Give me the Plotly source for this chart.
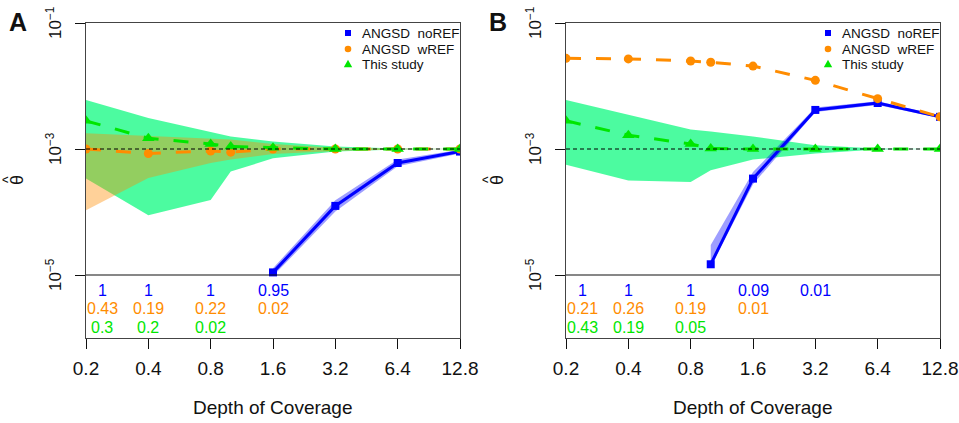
import math
import plotly.graph_objects as go

# ---------------- data ----------------
depth = [0.2, 0.4, 0.8, 1.0, 1.6, 3.2, 6.4, 12.8]
depth_ticks = [0.2, 0.4, 0.8, 1.6, 3.2, 6.4, 12.8]
depth_tick_labels = ["0.2", "0.4", "0.8", "1.6", "3.2", "6.4", "12.8"]
theta_ticks = [1e-5, 1e-3, 1e-1]
theta_tick_labels = ["10<sup>−5</sup>", "10<sup>−3</sup>", "10<sup>−1</sup>"]

# Panel A
a_noref = [None, None, None, None, 1.10e-5, 1.25e-4, 6.0e-4, 9.1e-4]
a_noref_lo = [None, None, None, None, 0.96e-5, 1.02e-4, 5.3e-4, 8.5e-4]
a_noref_hi = [None, None, None, None, 1.28e-5, 1.53e-4, 6.8e-4, 9.7e-4]
a_wref = [1.0e-3, 8.5e-4, 9.3e-4, 8.9e-4, 1.0e-3, 1.0e-3, 1.0e-3, 1.0e-3]
a_wref_lo = [1.07e-4, 3.47e-4, 6.0e-4, 6.8e-4, 8.3e-4, 9.3e-4, 9.8e-4, 1.0e-3]
a_wref_hi = [1.78e-3, 1.62e-3, 1.48e-3, 1.41e-3, 1.20e-3, 1.05e-3, 1.02e-3, 1.0e-3]
a_study = [2.8e-3, 1.48e-3, 1.2e-3, 1.1e-3, 1.05e-3, 1.0e-3, 1.0e-3, 1.0e-3]
a_study_lo = [3.4e-4, 8.9e-5, 1.55e-4, 4.4e-4, 7.1e-4, 9.1e-4, 9.8e-4, 1.0e-3]
a_study_hi = [6.0e-3, 3.1e-3, 1.86e-3, 1.58e-3, 1.32e-3, 1.10e-3, 1.02e-3, 1.0e-3]

# Panel B
b_noref = [None, None, None, 1.48e-5, 3.39e-4, 4.17e-3, 5.37e-3, 3.24e-3]
b_noref_lo = [None, None, None, 1.35e-5, 2.75e-4, 3.85e-3, 5.0e-3, 3.1e-3]
b_noref_hi = [None, None, None, 3.0e-5, 4.3e-4, 4.55e-3, 5.75e-3, 3.4e-3]
b_wref = [2.75e-2, 2.69e-2, 2.49e-2, 2.38e-2, 2.07e-2, 1.23e-2, 6.3e-3, 3.24e-3]
b_study = [2.8e-3, 1.66e-3, 1.2e-3, 1.02e-3, 1.0e-3, 1.0e-3, 1.0e-3, 1.0e-3]
b_study_lo = [5.6e-4, 3.16e-4, 3.0e-4, 4.6e-4, 6.8e-4, 8.5e-4, 9.8e-4, 1.0e-3]
b_study_hi = [6.0e-3, 3.47e-3, 2.04e-3, 1.9e-3, 1.58e-3, 1.15e-3, 1.02e-3, 1.0e-3]

# proportions printed under each panel (rows: noREF, wREF, this study)
a_prop_noref = ["1", "1", "1", "0.95"]
a_prop_wref = ["0.43", "0.19", "0.22", "0.02"]
a_prop_study = ["0.3", "0.2", "0.02"]
b_prop_noref = ["1", "1", "1", "0.09", "0.01"]
b_prop_wref = ["0.21", "0.26", "0.19", "0.01"]
b_prop_study = ["0.43", "0.19", "0.05"]

series_names = ["ANGSD  noREF", "ANGSD  wREF", "This study"]

# ---------------- styles ----------------
W, H = 959, 423
BLUE = "#0000FF"
ORANGE = "#FF8C00"
GREEN = "#00E600"
BLUE_FILL = "rgba(0,0,255,0.38)"
ORANGE_FILL = "rgba(255,140,0,0.40)"
GREEN_FILL = "rgba(0,250,120,0.70)"
FONT = "Liberation Sans, Arial, sans-serif"

def px_x(p):
    return p / W

def px_y(p):
    return 1 - p / H

fig = go.Figure()

def band(xaxis, yaxis, lo, hi, color):
    xs = [d for d, v in zip(depth, lo) if v is not None]
    los = [v for v in lo if v is not None]
    his = [v for v in hi if v is not None]
    fig.add_trace(go.Scatter(
        x=xs + xs[::-1], y=his + los[::-1], fill="toself", fillcolor=color,
        line=dict(width=0), mode="lines", hoverinfo="skip", showlegend=False,
        xaxis=xaxis, yaxis=yaxis))

def series(xaxis, yaxis, vals, color, symbol, size, dash, name):
    xs = [d for d, v in zip(depth, vals) if v is not None]
    ys = [v for v in vals if v is not None]
    fig.add_trace(go.Scatter(
        x=xs, y=ys, mode="lines+markers", name=name,
        line=dict(color=color, width=3, dash=dash),
        marker=dict(color=color, symbol=symbol, size=size, line=dict(width=0)),
        showlegend=False, xaxis=xaxis, yaxis=yaxis))

# Panel A
band("x", "y", a_study_lo, a_study_hi, GREEN_FILL)
band("x", "y", a_wref_lo, a_wref_hi, ORANGE_FILL)
band("x", "y", a_noref_lo, a_noref_hi, BLUE_FILL)
series("x", "y", a_noref, BLUE, "square", 8, "solid", series_names[0])
series("x", "y", a_wref, ORANGE, "circle", 9, "longdash", series_names[1])
series("x", "y", a_study, GREEN, "triangle-up", 11, "longdash", series_names[2])

# Panel B
band("x2", "y2", b_study_lo, b_study_hi, GREEN_FILL)
band("x2", "y2", b_noref_lo, b_noref_hi, BLUE_FILL)
series("x2", "y2", b_noref, BLUE, "square", 8, "solid", series_names[0])
series("x2", "y2", b_study, GREEN, "triangle-up", 11, "longdash", series_names[2])
series("x2", "y2", b_wref, ORANGE, "circle", 9, "longdash", series_names[1])

# ---------------- axes ----------------
xr = [math.log10(0.2), math.log10(12.8)]
common_x = dict(
    type="log", range=xr, tickvals=depth_ticks, ticktext=depth_tick_labels,
    ticks="outside", ticklen=10, tickcolor="#111", tickwidth=1,
    showline=True, linecolor="#444", linewidth=1.2, mirror=True,
    showgrid=False, zeroline=False, ticklabelstandoff=3, automargin=False,
    tickfont=dict(family=FONT, size=19, color="#111"))
common_y = dict(
    type="log", range=[-6, -1], tickvals=theta_ticks, showticklabels=False,
    ticks="outside", ticklen=10, tickcolor="#111",
    showline=True, linecolor="#444", linewidth=1.2, mirror=True,
    showgrid=False, zeroline=False, automargin=False)

yd = [px_y(338), px_y(23)]
fig.update_layout(
    xaxis=dict(domain=[px_x(86), px_x(460)], anchor="y", **common_x),
    yaxis=dict(domain=yd, anchor="x", **common_y),
    xaxis2=dict(domain=[px_x(566), px_x(940)], anchor="y2", **common_x),
    yaxis2=dict(domain=yd, anchor="x2", **common_y),
)

shapes = []
for xr_, yr_ in [("x", "y"), ("x2", "y2")]:
    shapes.append(dict(type="line", xref=f"{xr_} domain", x0=0, x1=1,
                       yref=yr_, y0=1e-3, y1=1e-3,
                       line=dict(color="black", width=1.2, dash="4px,3px"),
                       layer="above"))
    shapes.append(dict(type="line", xref=f"{xr_} domain", x0=0, x1=1,
                       yref=yr_, y0=1e-5, y1=1e-5,
                       line=dict(color="#111", width=1.2), layer="above"))

annotations = []
row_y = [0.150, 0.093, 0.034]
for xr_, yr_, rows in [("x", "y", [a_prop_noref, a_prop_wref, a_prop_study]),
                       ("x2", "y2", [b_prop_noref, b_prop_wref, b_prop_study])]:
    for ry, texts, col in zip(row_y, rows, [BLUE, ORANGE, GREEN]):
        for i, t in enumerate(texts):
            annotations.append(dict(
                text=t, xref=xr_, yref=f"{yr_} domain",
                x=math.log10(depth_ticks[i]), y=ry, xshift=16 if i == 0 else 0,
                showarrow=False, font=dict(family=FONT, size=16, color=col),
                xanchor="center", yanchor="middle"))
    annotations.append(dict(
        text="Depth of Coverage", xref=f"{xr_} domain", x=0.5, yref="paper",
        y=px_y(407), showarrow=False, xanchor="center", yanchor="middle",
        font=dict(family=FONT, size=19, color="#111")))
    # rotated y tick labels
    for tv, tt in zip(theta_ticks, theta_tick_labels):
        annotations.append(dict(
            text=tt, xref=f"{xr_} domain", x=0, xshift=-32, yref=yr_,
            y=math.log10(tv), showarrow=False, textangle=-90,
            xanchor="center", yanchor="middle",
            font=dict(family=FONT, size=17, color="#111")))

for letter, lx in [("A", 18), ("B", 498)]:
    annotations.append(dict(
        text=f"<b>{letter}</b>", xref="paper", yref="paper", x=px_x(lx), y=px_y(22),
        showarrow=False, xanchor="center", yanchor="middle",
        font=dict(family=FONT, size=25, color="#111")))

# y axis label: theta with hat (rotated)
for off in [0, 480]:
    annotations.append(dict(
        text="θ", xref="paper", yref="paper", x=px_x(17 + off), y=px_y(180),
        showarrow=False, textangle=-90, xanchor="center", yanchor="middle",
        font=dict(family=FONT, size=18, color="#111")))
    annotations.append(dict(
        text="^", xref="paper", yref="paper", x=px_x(8 + off), y=px_y(180),
        showarrow=False, textangle=-90, xanchor="center", yanchor="middle",
        font=dict(family=FONT, size=14, color="#111")))

# manual legends (marker + label)
leg_rows = [33, 49, 64]
leg_colors = [BLUE, ORANGE, GREEN]
for off in [0, 480]:
    mx = 348 + off
    for k, (name, col, ry) in enumerate(zip(series_names, leg_colors, leg_rows)):
        if k == 0:
            shapes.append(dict(type="rect", xref="paper", yref="paper",
                               x0=px_x(mx - 3), x1=px_x(mx + 3),
                               y0=px_y(ry + 3), y1=px_y(ry - 3),
                               fillcolor=col, line=dict(width=0)))
        elif k == 1:
            shapes.append(dict(type="circle", xref="paper", yref="paper",
                               x0=px_x(mx - 3.3), x1=px_x(mx + 3.3),
                               y0=px_y(ry + 3.3), y1=px_y(ry - 3.3),
                               fillcolor=col, line=dict(width=0)))
        else:
            path = (f"M {px_x(mx - 4.2)},{px_y(ry + 3.2)} "
                    f"L {px_x(mx + 4.2)},{px_y(ry + 3.2)} "
                    f"L {px_x(mx)},{px_y(ry - 4.2)} Z")
            shapes.append(dict(type="path", xref="paper", yref="paper",
                               path=path, fillcolor=col, line=dict(width=0)))
        annotations.append(dict(
            text=name, xref="paper", yref="paper", x=px_x(mx + 12), y=px_y(ry),
            showarrow=False, xanchor="left", yanchor="middle",
            font=dict(family=FONT, size=13.5, color="#111")))

fig.update_layout(
    width=W, height=H, margin=dict(l=0, r=0, t=0, b=0, autoexpand=False),
    paper_bgcolor="white", plot_bgcolor="white", showlegend=False,
    shapes=shapes, annotations=annotations,
)

fig.write_html("out.html", config={"displayModeBar": False},
               post_script="document.body.style.margin='0px';")
